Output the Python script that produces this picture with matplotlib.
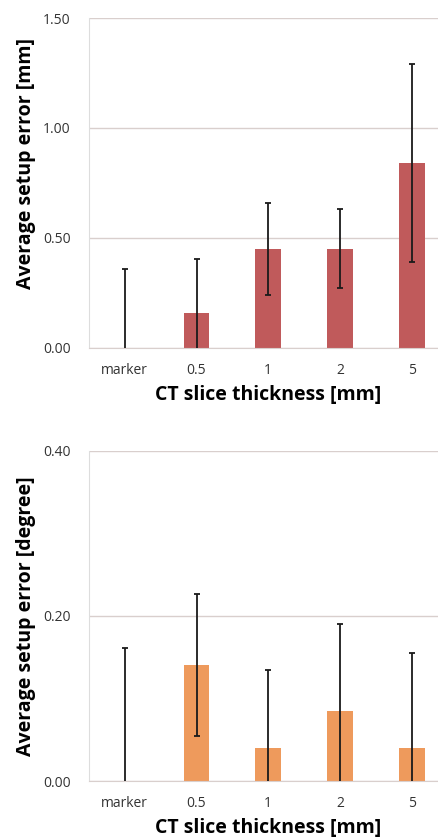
import numpy as np
import matplotlib
matplotlib.use("Agg")
import matplotlib.pyplot as plt

categories = ["marker", "0.5", "1", "2", "5"]

# top panel: translational error [mm]
mm_values = [0.0, 0.16, 0.45, 0.45, 0.84]
mm_errors = [0.36, 0.245, 0.21, 0.18, 0.45]
mm_ticks = [0.0, 0.5, 1.0, 1.5]

# bottom panel: rotational error [degree]
deg_values = [0.0, 0.141, 0.040, 0.085, 0.040]
deg_errors = [0.161, 0.086, 0.095, 0.105, 0.115]
deg_ticks = [0.0, 0.2, 0.4]

plt.rcParams["font.family"] = ["Open Sans", "DejaVu Sans"]

fig = plt.figure(figsize=(4.38, 8.38), dpi=100)
ax1 = fig.add_axes([0.203, 0.585, 0.819, 0.3935])
ax2 = fig.add_axes([0.203, 0.068, 0.819, 0.394])


def draw_panel(ax, values, errors, ticks, color, ylabel, label_y=0.5):
    x = np.arange(len(categories))
    ax.bar(x, values, width=0.36, color=color, zorder=2)
    ax.errorbar(x, values, yerr=errors, fmt="none", ecolor="#1a1a1a",
                elinewidth=1.3, capsize=2.5, capthick=1.3, zorder=3)
    ax.set_xlim(-0.5, len(categories) - 0.5)
    ax.set_ylim(ticks[0], ticks[-1])
    ax.set_yticks(ticks)
    ax.set_yticklabels([f"{t:.2f}" for t in ticks], fontsize=10, color="#333333")
    ax.set_xticks(x)
    ax.set_xticklabels(categories, fontsize=10, color="#333333")
    ax.tick_params(axis="x", length=0, pad=11)
    ax.tick_params(axis="y", length=0, pad=13)
    ax.yaxis.grid(True, color="#d9cfcd", linewidth=1.0, zorder=0)
    ax.set_axisbelow(True)
    for s in ["top", "right"]:
        ax.spines[s].set_visible(False)
    ax.spines["left"].set_color("#dddddd")
    ax.spines["bottom"].set_color("#d9cfcd")
    ax.set_ylabel(ylabel, fontsize=14, fontweight="bold")
    ax.yaxis.set_label_coords(-0.148, label_y)
    ax.set_xlabel("CT slice thickness [mm]", fontsize=14, fontweight="bold", labelpad=5)


draw_panel(ax1, mm_values, mm_errors, mm_ticks, "#c05a5b", "Average setup error [mm]", 0.56)
draw_panel(ax2, deg_values, deg_errors, deg_ticks, "#ee9a5c", "Average setup error [degree]")

fig.savefig("out.png", dpi=100)
